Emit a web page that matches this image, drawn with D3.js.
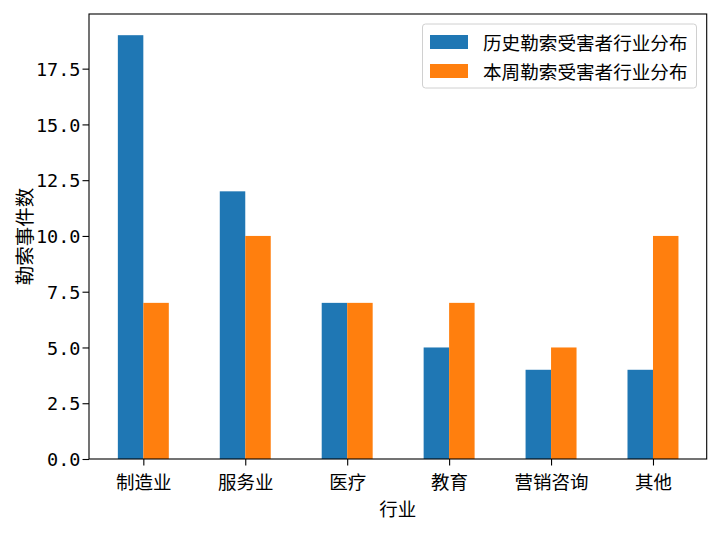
<!DOCTYPE html>
<html><head><meta charset="utf-8">
<script src="https://cdn.jsdelivr.net/npm/d3@7"></script>
<style>body{margin:0;background:#fff}svg{display:block}text{font-family:"Noto Sans CJK SC","DejaVu Sans",sans-serif}</style>
</head><body>
<svg id="c" width="720" height="533"></svg>
<script>
const categories = ["制造业","服务业","医疗","教育","营销咨询","其他"];
const seriesNames = ["历史勒索受害者行业分布","本周勒索受害者行业分布"];
const historyValues = [19,12,7,5,4,4];
const weekValues = [7,10,7,7,5,10];
const yTicks = [0,2.5,5,7.5,10,12.5,15,17.5];
const colors = ["#1f77b4","#ff7f0e"];

const svg = d3.select("#c");
const L=89, R=706.7, T=14, B=459;
const x = d3.scaleLinear().domain([-0.533, categories.length-0.473]).range([L,R]);
const y = d3.scaleLinear().domain([0, 19.95]).range([B,T]);
const w = 0.25;
const series = [historyValues, weekValues];
series.forEach((vals,si)=>{
  svg.append("g").selectAll("rect").data(vals).join("rect")
    .attr("x",(d,i)=>x(i - w + si*w))
    .attr("width",x(w)-x(0))
    .attr("y",d=>y(d))
    .attr("height",d=>y(0)-y(d))
    .attr("fill",colors[si]);
});
const fmt = d=>d.toFixed(1);
const yAxis = svg.append("g").attr("transform",`translate(${L},0)`)
  .call(d3.axisLeft(y).tickValues(yTicks).tickFormat(fmt).tickSize(6.5).tickPadding(2));
const xAxis = svg.append("g").attr("transform",`translate(0,${B})`)
  .call(d3.axisBottom(x).tickValues(d3.range(categories.length)).tickFormat(i=>categories[i]).tickSize(6.5).tickPadding(5));
[yAxis,xAxis].forEach(a=>{a.select(".domain").remove();a.selectAll("line").attr("stroke","#000").attr("stroke-width",1.1);a.selectAll("text").attr("fill","#000");});
yAxis.selectAll("text").attr("font-size",18.5).style("font-family",'"DejaVu Sans Mono",monospace').attr("dy","0.36em");
xAxis.selectAll("text").attr("font-size",18.5).style("font-family",'"Noto Sans CJK SC",sans-serif').attr("y",30).attr("dy",null);
svg.append("rect").attr("x",L).attr("y",T).attr("width",R-L).attr("height",B-T).attr("fill","none").attr("stroke","#000").attr("stroke-width",1.1);
svg.append("text").attr("x",(L+R)/2).attr("y",516).attr("text-anchor","middle").attr("font-size",18.5).text("行业");
svg.append("text").attr("transform",`translate(32,${(T+B)/2}) rotate(-90)`).attr("text-anchor","middle").attr("font-size",19.5).text("勒索事件数");
// legend
const lg = svg.append("g");
lg.append("rect").attr("x",422.5).attr("y",24).attr("width",274).attr("height",64).attr("rx",3).attr("fill","#fff").attr("fill-opacity",0.8).attr("stroke","#d0d0d0");
seriesNames.forEach((n,i)=>{
  lg.append("rect").attr("x",430).attr("y",35+i*29).attr("width",38).attr("height",14).attr("fill",colors[i]);
  lg.append("text").attr("x",483).attr("y",50+i*29).attr("font-size",18.6).text(n);
});
</script>
</body></html>
